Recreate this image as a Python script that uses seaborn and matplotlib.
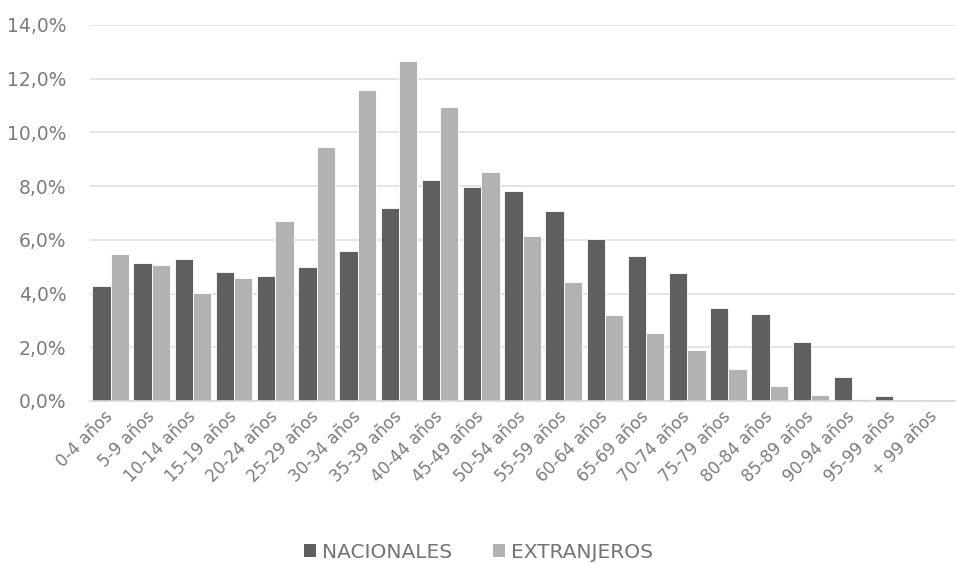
import matplotlib
matplotlib.use("Agg")
import matplotlib.pyplot as plt
from matplotlib.ticker import FuncFormatter, MultipleLocator
from matplotlib.patches import Patch
import pandas as pd
import seaborn as sns

grupos = ["0-4 años", "5-9 años", "10-14 años", "15-19 años", "20-24 años",
          "25-29 años", "30-34 años", "35-39 años", "40-44 años", "45-49 años",
          "50-54 años", "55-59 años", "60-64 años", "65-69 años", "70-74 años",
          "75-79 años", "80-84 años", "85-89 años", "90-94 años", "95-99 años",
          "+ 99 años"]
nacionales = [4.29, 5.14, 5.30, 4.82, 4.65, 4.99, 5.59, 7.18, 8.22, 7.98,
              7.81, 7.08, 6.02, 5.39, 4.77, 3.47, 3.25, 2.19, 0.88, 0.17, 0.02]
extranjeros = [5.49, 5.08, 4.02, 4.57, 6.72, 9.44, 11.57, 12.65, 10.94, 8.51,
               6.15, 4.43, 3.20, 2.53, 1.90, 1.20, 0.57, 0.24, 0.06, 0.01, 0.0]
series = ["NACIONALES", "EXTRANJEROS"]
colores = ["#5f5f5f", "#b2b2b2"]

df = pd.DataFrame({
    "grupo": grupos * 2,
    "valor": nacionales + extranjeros,
    "serie": [series[0]] * len(grupos) + [series[1]] * len(grupos),
})

sns.set_theme(style="white")
plt.rcParams["font.family"] = ["DejaVu Sans"]
texto = "#7c7c7c"

fig = plt.figure(figsize=(9.57, 5.64), dpi=100)
ax = fig.add_axes([90 / 957, 1 - 401 / 564, 865 / 957, 376 / 564])

sns.barplot(data=df, x="grupo", y="valor", hue="serie", order=grupos,
            hue_order=series, palette=colores, width=0.89, gap=0,
            edgecolor="white", linewidth=0.6, saturation=1, ax=ax,
            legend=False)

ax.set_ylim(0, 14)
ax.set_xlim(-0.5, len(grupos) - 0.5)
ax.yaxis.set_major_locator(MultipleLocator(2))
ax.yaxis.set_major_formatter(FuncFormatter(lambda v, _: f"{v:.1f}%".replace(".", ",")))
ax.grid(axis="y", color="#e2e2e2", linewidth=1.3)
ax.set_axisbelow(True)
for side in ["top", "right", "left"]:
    ax.spines[side].set_visible(False)
ax.spines["bottom"].set_color("#d9d9d9")
ax.spines["bottom"].set_linewidth(1.2)
ax.set_xlabel("")
ax.set_ylabel("")
ax.tick_params(axis="y", length=0, pad=17, labelsize=13.5, labelcolor=texto)
ax.tick_params(axis="x", length=0, pad=9, labelsize=12, labelcolor=texto)
plt.setp(ax.get_xticklabels(), rotation=45, ha="right", va="center",
         rotation_mode="anchor")

handles = [Patch(facecolor=c, edgecolor="none") for c in colores]
fig.legend(handles, series, loc="center", bbox_to_anchor=(0.5, 1 - 552 / 564),
           ncol=2, frameon=False, labelcolor="#747474",
           handlelength=0.6, handleheight=0.6, handletextpad=0.3,
           columnspacing=2.0, prop={"size": 14.5})

fig.savefig("out.png", dpi=100, facecolor="white")
